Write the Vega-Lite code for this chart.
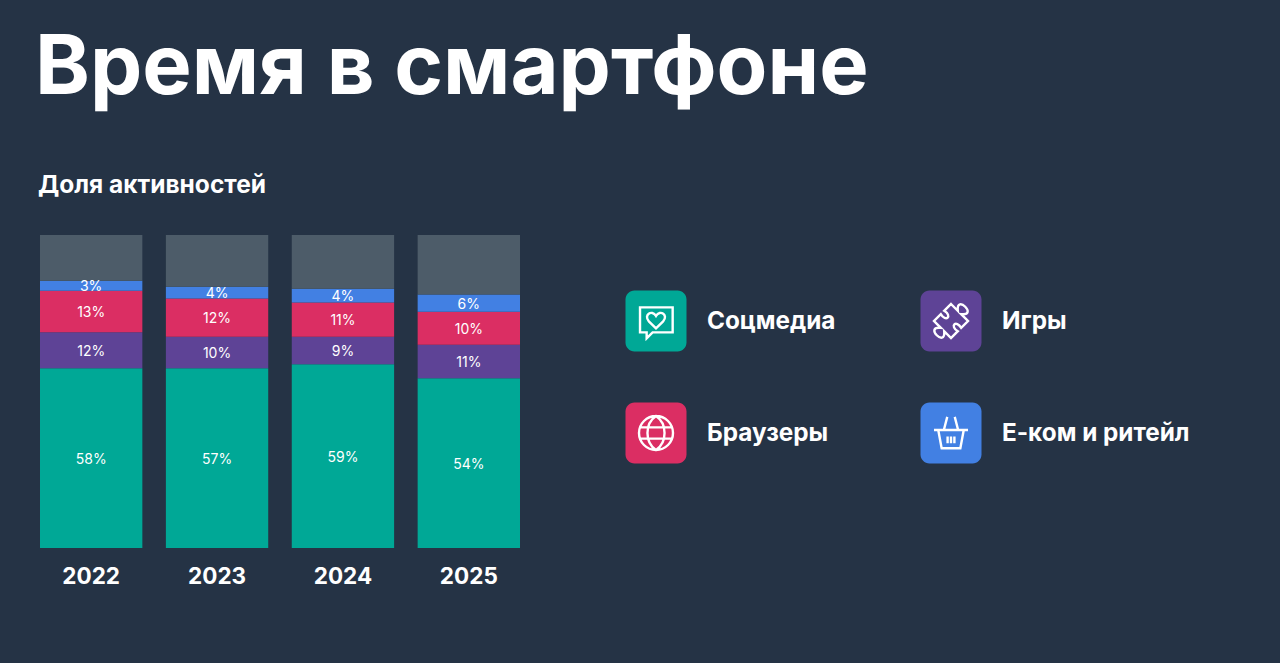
{
  "$schema": "https://vega.github.io/schema/vega-lite/v6.json",
  "background": "#253345",
  "padding": {"left": 35, "top": 27, "right": 92, "bottom": 78},
  "bounds": "flush",
  "spacing": 105,
  "title": {
    "text": "Время в смартфоне",
    "anchor": "start",
    "frame": "group",
    "font": "Inter",
    "fontSize": 83,
    "fontWeight": 700,
    "color": "#ffffff",
    "dx": -5,
    "offset": 62
  },
  "datasets": {
    "shares": [
      {"year": "2022", "category": "Соцмедиа", "rank": 1, "share": 57.4, "label": "58%"},
      {"year": "2022", "category": "Игры", "rank": 2, "share": 11.5, "label": "12%"},
      {"year": "2022", "category": "Браузеры", "rank": 3, "share": 13.3, "label": "13%"},
      {"year": "2022", "category": "Е-ком и ритейл", "rank": 4, "share": 3.2, "label": "3%"},
      {"year": "2022", "category": "Другое", "rank": 5, "share": 14.6, "label": ""},
      {"year": "2023", "category": "Соцмедиа", "rank": 1, "share": 57.4, "label": "57%"},
      {"year": "2023", "category": "Игры", "rank": 2, "share": 10.1, "label": "10%"},
      {"year": "2023", "category": "Браузеры", "rank": 3, "share": 12.2, "label": "12%"},
      {"year": "2023", "category": "Е-ком и ритейл", "rank": 4, "share": 3.8, "label": "4%"},
      {"year": "2023", "category": "Другое", "rank": 5, "share": 16.5, "label": ""},
      {"year": "2024", "category": "Соцмедиа", "rank": 1, "share": 58.7, "label": "59%"},
      {"year": "2024", "category": "Игры", "rank": 2, "share": 8.8, "label": "9%"},
      {"year": "2024", "category": "Браузеры", "rank": 3, "share": 10.9, "label": "11%"},
      {"year": "2024", "category": "Е-ком и ритейл", "rank": 4, "share": 4.4, "label": "4%"},
      {"year": "2024", "category": "Другое", "rank": 5, "share": 17.2, "label": ""},
      {"year": "2025", "category": "Соцмедиа", "rank": 1, "share": 54.2, "label": "54%"},
      {"year": "2025", "category": "Игры", "rank": 2, "share": 10.7, "label": "11%"},
      {"year": "2025", "category": "Браузеры", "rank": 3, "share": 10.6, "label": "10%"},
      {"year": "2025", "category": "Е-ком и ритейл", "rank": 4, "share": 5.5, "label": "6%"},
      {"year": "2025", "category": "Другое", "rank": 5, "share": 19.0, "label": ""}
    ],
    "key": [
      {"category": "Соцмедиа", "col": "a", "row": "a"},
      {"category": "Игры", "col": "b", "row": "a"},
      {"category": "Браузеры", "col": "a", "row": "b"},
      {"category": "Е-ком и ритейл", "col": "b", "row": "b"}
    ]
  },
  "hconcat": [
    {
      "width": 480,
      "height": 313,
      "title": {
        "text": "Доля активностей",
        "anchor": "start",
        "font": "Inter",
        "fontSize": 24.5,
        "fontWeight": 700,
        "color": "#ffffff",
        "dx": -2,
        "offset": 37
      },
      "view": {"stroke": null},
      "data": {"name": "shares"},
      "encoding": {
        "x": {
          "field": "year",
          "type": "ordinal",
          "title": null,
          "scale": {"paddingInner": 0.187, "paddingOuter": 0},
          "axis": {
            "labelAngle": 0,
            "labelColor": "#ffffff",
            "labelFont": "Inter",
            "labelFontSize": 22.5,
            "labelFontWeight": 700,
            "labelPadding": 17,
            "domain": false,
            "ticks": false,
            "grid": false
          }
        }
      },
      "layer": [
        {
          "mark": {"type": "bar", "opacity": 1},
          "encoding": {
            "y": {
              "field": "share",
              "type": "quantitative",
              "stack": "zero",
              "axis": null,
              "scale": {"domain": [0, 100], "nice": false}
            },
            "color": {
              "field": "category",
              "type": "nominal",
              "legend": null,
              "scale": {
                "domain": ["Соцмедиа", "Игры", "Браузеры", "Е-ком и ритейл", "Другое"],
                "range": ["#00A896", "#5E4396", "#DB2E63", "#4280E3", "#4D5C69"]
              }
            },
            "order": {"field": "rank", "type": "quantitative"}
          }
        },
        {
          "mark": {"type": "text", "color": "#ffffff", "font": "Inter", "fontSize": 14, "fontWeight": 400, "dy": 1.5},
          "encoding": {
            "y": {
              "field": "share",
              "type": "quantitative",
              "stack": "zero",
              "bandPosition": 0.5,
              "axis": null,
              "scale": {"domain": [0, 100], "nice": false}
            },
            "text": {"field": "label", "type": "nominal"},
            "detail": {"field": "category"},
            "order": {"field": "rank", "type": "quantitative"}
          }
        }
      ]
    },
    {
      "width": 357,
      "height": 313,
      "view": {"stroke": null},
      "data": {"name": "key"},
      "encoding": {
        "x": {
          "field": "col",
          "type": "ordinal",
          "axis": null,
          "scale": {"type": "point", "padding": 0, "range": [31, 326]}
        },
        "y": {
          "field": "row",
          "type": "ordinal",
          "axis": null,
          "scale": {"type": "point", "padding": 0, "range": [86, 198]}
        }
      },
      "layer": [
        {
          "mark": {"type": "rect", "width": 61, "height": 61, "cornerRadius": 9},
          "encoding": {
            "color": {
              "field": "category",
              "type": "nominal",
              "legend": null,
              "scale": {
                "domain": ["Соцмедиа", "Игры", "Браузеры", "Е-ком и ритейл"],
                "range": ["#00A896", "#5E4396", "#DB2E63", "#4280E3"]
              }
            }
          }
        },
        {
          "mark": {"type": "point", "filled": false, "opacity": 1, "stroke": "#ffffff", "strokeWidth": 2.4, "size": 1156},
          "encoding": {
            "shape": {
              "field": "category",
              "type": "nominal",
              "legend": null,
              "scale": {
                "domain": ["Соцмедиа", "Игры", "Браузеры", "Е-ком и ритейл"],
                "range": [
                  "M-.94,-.8 L.98,-.8 L.98,.67 L-.2,.67 L-.55,1.02 L-.55,.67 L-.94,.67 Z M0,.43 L-.42,.02 C-.75,-.35 -.25,-.7 0,-.3 C.25,-.7 .75,-.35 .42,.02 Z",
                  "M0,-1 L.4,-.6 C.3,-1.6 1.6,-.3 .6,-.4 L1,0 L.6,.4 C.3,-.1 -.1,.3 .4,.6 L0,1 L-.4,.6 C-.3,1.6 -1.6,.3 -.6,.4 L-1,0 L-.6,-.4 C-.3,.1 .1,-.3 -.4,-.6 Z",
                  "M-1,0 C-1,-.55 -.55,-1 0,-1 C.55,-1 1,-.55 1,0 C1,.55 .55,1 0,1 C-.55,1 -1,.55 -1,0 Z M0,-1 C-.67,-.55 -.67,.55 0,1 C.67,.55 .67,-.55 0,-1 Z M-.94,-.33 L.94,-.33 M-.94,.33 L.94,.33",
                  "M-1,-.18 L1,-.18 M-.75,-.18 L-.55,.9 L.55,.9 L.75,-.18 M-.42,-.18 L-.22,-.95 M.42,-.18 L.22,-.95 M-.2,.2 L-.2,.6 M0,.2 L0,.6 M.2,.2 L.2,.6"
                ]
              }
            }
          }
        },
        {
          "mark": {"type": "text", "align": "left", "dx": 51, "dy": 1, "color": "#ffffff", "font": "Inter", "fontSize": 24.3, "fontWeight": 700},
          "encoding": {
            "text": {"field": "category", "type": "nominal"}
          }
        }
      ]
    }
  ]
}
